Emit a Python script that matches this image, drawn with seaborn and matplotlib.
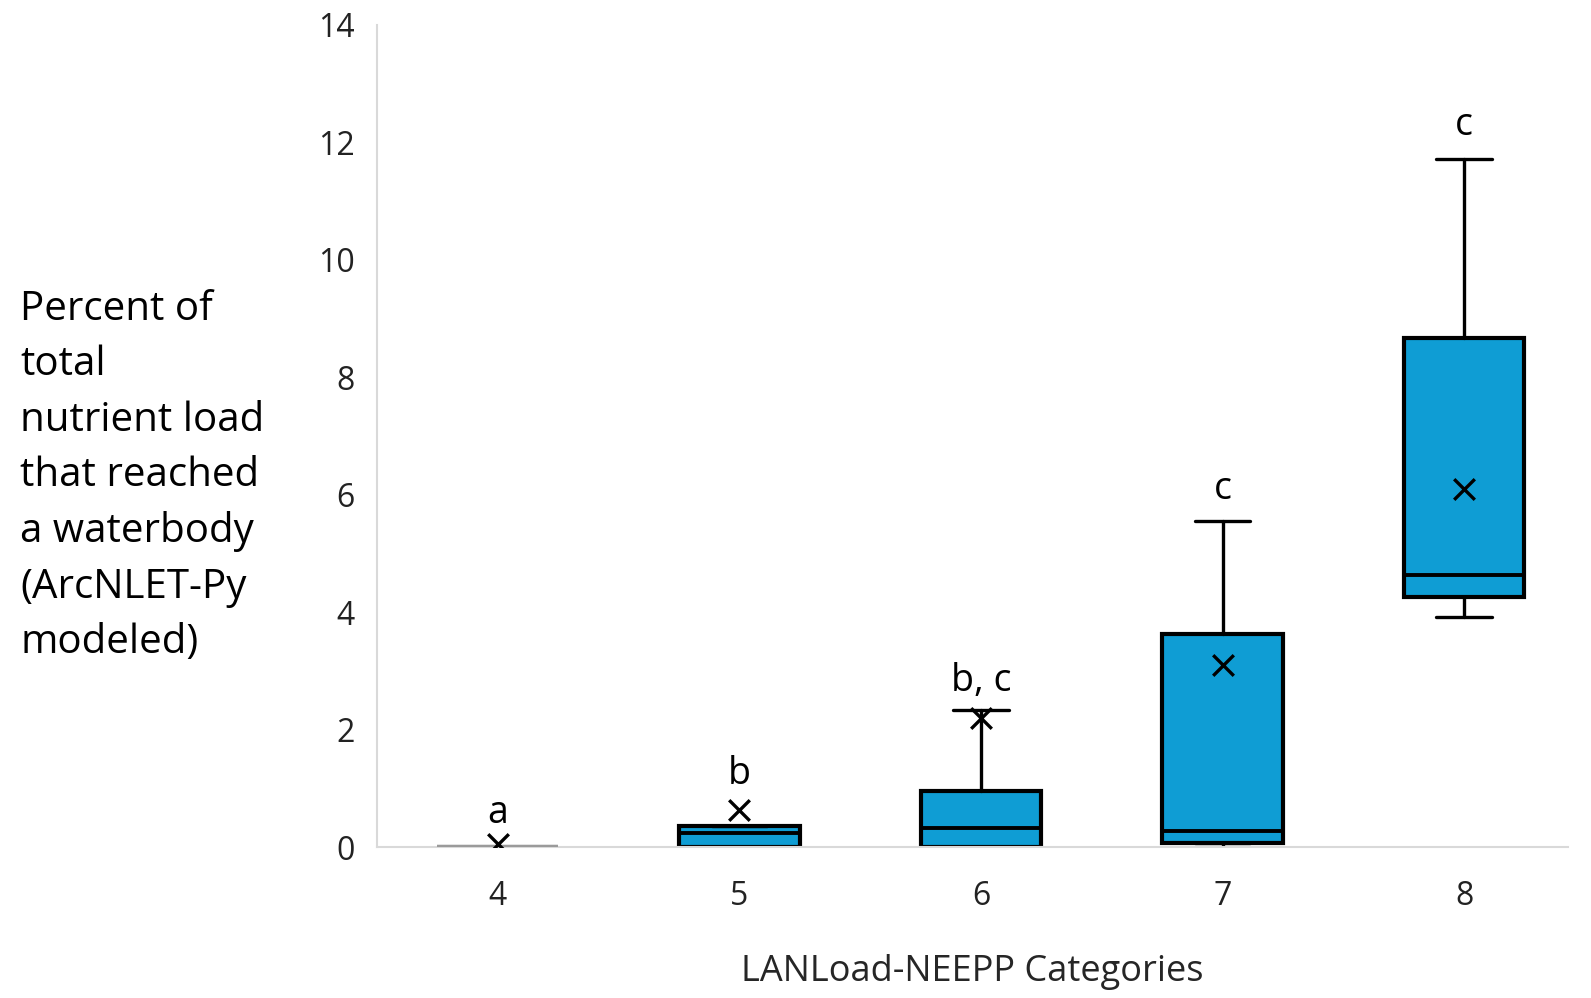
import numpy as np
import pandas as pd
import seaborn as sns
from matplotlib import pyplot as plt

# Summary statistics (percent of total nutrient load)
categories = [4, 5, 6, 7, 8]
whisker_low = [0.0, 0.0, 0.0, 0.0, 3.92]
q1 = [0.0, 0.0, 0.0, 0.07, 4.26]
median = [0.0, 0.24, 0.32, 0.27, 4.63]
q3 = [0.0, 0.36, 0.95, 3.63, 8.67]
whisker_high = [0.0, 0.36, 2.33, 5.55, 11.72]
means = [0.05, 0.63, 2.2, 3.1, 6.1]
letters = ['a', 'b', 'b, c', 'c', 'c']
letter_y = [0.58, 1.25, 2.83, 6.1, 12.3]

box_color = '#0F9DD4'

sns.set_theme(style='white')
plt.rcParams['font.family'] = ['Open Sans', 'DejaVu Sans']

fig = plt.figure(figsize=(15.91, 9.98), dpi=100)
ax = fig.add_axes([0.237, 0.1513, 0.7485, 0.8237])

stats = []
for i, c in enumerate(categories):
    stats.append({'label': str(c), 'whislo': whisker_low[i], 'q1': q1[i],
                  'med': median[i], 'q3': q3[i], 'whishi': whisker_high[i]})

ax.bxp(stats, positions=categories, widths=0.5, showfliers=False,
       patch_artist=True,
       boxprops={'facecolor': box_color, 'edgecolor': 'black', 'linewidth': 3},
       medianprops={'color': 'black', 'linewidth': 2.8},
       whiskerprops={'color': 'black', 'linewidth': 2.4},
       capprops={'color': 'black', 'linewidth': 2.4},
       capwidths=0.23)

# zero-height box for category 4 shows only as a grey line
ax.hlines(0, categories[0] - 0.25, categories[0] + 0.25, color='#9a9a9a', lw=3, zorder=5)

mean_df = pd.DataFrame({'category': categories, 'mean': means})
sns.scatterplot(data=mean_df, x='category', y='mean', marker='x', s=220,
                color='black', linewidth=2.4, ax=ax, zorder=6)

for c, t, y in zip(categories, letters, letter_y):
    ax.text(c, y, t, ha='center', va='center', fontsize=27, color='black')

ax.set_xlim(3.5, 8.43)
ax.set_ylim(0, 14)
ax.set_yticks(range(0, 15, 2))
ax.set_xticks(categories)
ax.tick_params(axis='both', labelsize=23, colors='#222222', length=0)
ax.tick_params(axis='x', pad=24)
ax.tick_params(axis='y', pad=16)

sns.despine(ax=ax, top=True, right=True)
for side in ['left', 'bottom']:
    ax.spines[side].set_color('#d9d9d9')
    ax.spines[side].set_linewidth(1.5)

ax.set_xlabel('LANLoad-NEEPP Categories', fontsize=26, labelpad=29)
ax.set_ylabel('')

fig.text(0.0126, 0.71, 'Percent of\ntotal\nnutrient load\nthat reached\na waterbody\n(ArcNLET-Py\nmodeled)',
         ha='left', va='top', fontsize=29, linespacing=1.49, color='black')

fig.savefig('out.png', dpi=100)
